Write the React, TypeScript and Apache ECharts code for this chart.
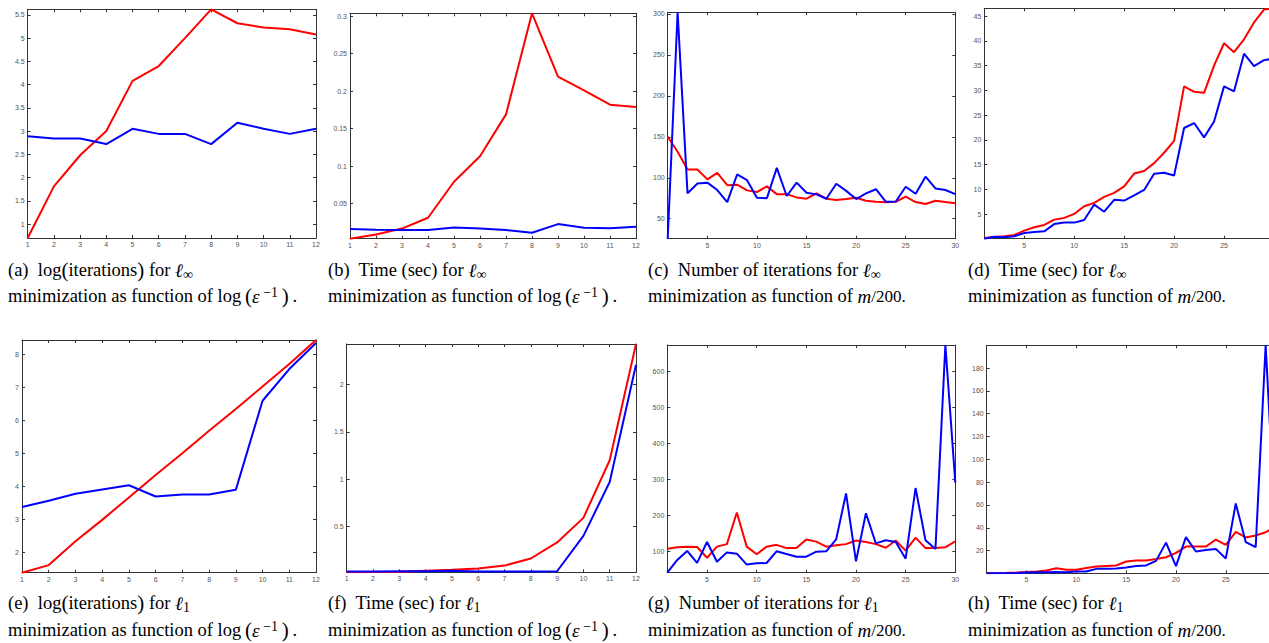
import React, { useEffect, useRef } from 'react';
import * as echarts from 'echarts';

// ---------- data ----------
const xEps = [1, 2, 3, 4, 5, 6, 7, 8, 9, 10, 11, 12];
const xM = [1, 2, 3, 4, 5, 6, 7, 8, 9, 10, 11, 12, 13, 14, 15, 16, 17, 18, 19, 20, 21, 22, 23, 24, 25, 26, 27, 28, 29, 30];

const xEpsTicks = [1, 2, 3, 4, 5, 6, 7, 8, 9, 10, 11, 12];
const xMTicks = [5, 10, 15, 20, 25, 30];
const xMTicksClipped = [5, 10, 15, 20, 25];

const aYTicks = [1, 1.5, 2, 2.5, 3, 3.5, 4, 4.5, 5, 5.5];
const bYTicks = [0.05, 0.1, 0.15, 0.2, 0.25, 0.3];
const cYTicks = [50, 100, 150, 200, 250, 300];
const dYTicks = [5, 10, 15, 20, 25, 30, 35, 40, 45];
const eYTicks = [2, 3, 4, 5, 6, 7, 8];
const fYTicks = [0.5, 1, 1.5, 2];
const gYTicks = [100, 200, 300, 400, 500, 600];
const hYTicks = [20, 40, 60, 80, 100, 120, 140, 160, 180];

const aRed = [0.7, 1.81, 2.48, 3.0, 4.08, 4.4, 5.0, 5.62, 5.32, 5.23, 5.19, 5.08];
const aBlue = [2.89, 2.84, 2.84, 2.72, 3.05, 2.94, 2.94, 2.72, 3.18, 3.05, 2.94, 3.05];

const bRed = [0.003, 0.0085, 0.0165, 0.031, 0.079, 0.113, 0.169, 0.304, 0.2195, 0.201, 0.182, 0.179];
const bBlue = [0.0158, 0.015, 0.0145, 0.0145, 0.018, 0.0165, 0.0145, 0.011, 0.0225, 0.0175, 0.017, 0.019];

const cRed = [150, 131.8, 110, 110, 98, 106, 91, 91.5, 84.6, 82.6, 89.5, 80, 80, 76, 74.4, 81, 74.4, 72.8, 74, 75.6, 72, 70.7, 70, 70.7, 76.9, 70.3, 68, 72, 70.3, 69];
const cBlue = [25.6, 302, 81, 93, 94, 85, 70.3, 104, 97, 75.6, 75, 112, 77.7, 94, 81.7, 79.7, 74.4, 92.7, 84, 74, 81, 86, 70.7, 71, 89, 80.5, 101.3, 87, 85, 80];

const dRed = [0.2, 0.4, 0.53, 0.8, 1.68, 2.35, 2.83, 3.9, 4.24, 5.05, 6.6, 7.28, 8.5, 9.3, 10.6, 13.2, 13.7, 15.3, 17.4, 19.8, 30.8, 29.7, 29.5, 35.0, 39.5, 37.7, 40.3, 43.7, 46.3, 46.56];
const dBlue = [0.05, 0.46, 0.33, 0.53, 1.2, 1.4, 1.54, 3.0, 3.3, 3.3, 3.84, 6.94, 5.5, 7.9, 7.75, 8.8, 9.9, 13.15, 13.35, 12.8, 22.4, 23.4, 20.5, 23.7, 30.8, 29.8, 37.4, 34.9, 36.1, 36.4];

const eRed = [1.38, 1.61, 2.33, 2.98, 3.66, 4.34, 5.0, 5.68, 6.34, 7.02, 7.7, 8.43];
const eBlue = [3.37, 3.56, 3.77, 3.9, 4.03, 3.69, 3.75, 3.75, 3.89, 6.59, 7.55, 8.34];

const fRed = [0.014, 0.016, 0.02, 0.03, 0.04, 0.053, 0.085, 0.16, 0.33, 0.59, 1.2, 2.43];
const fBlue = [0.022, 0.022, 0.024, 0.025, 0.03, 0.022, 0.022, 0.022, 0.025, 0.4, 0.97, 2.21];

const gRed = [107, 111, 113, 112, 82, 113, 120, 208, 113, 92, 113, 118, 109, 109, 133, 127, 113, 117, 120, 130, 126, 120, 110, 130, 102, 138, 109, 109, 111, 128];
const gBlue = [40.5, 76, 101, 68, 126, 71, 97, 93.5, 63, 66.6, 67.5, 100, 92.6, 85, 85, 99, 100, 133, 261, 72, 206, 122, 130.6, 126, 79.6, 276, 130.6, 106.5, 674, 291];

const hRed = [0.2, 0.3, 0.5, 0.8, 1.3, 1.6, 2.5, 4.5, 3.3, 3.3, 4.8, 6.0, 6.6, 6.9, 10.4, 11.3, 11.3, 12.7, 14.2, 18, 23.5, 23.5, 23.5, 29.7, 25, 36.4, 31.5, 33.2, 36.1, 41];
const hBlue = [0.1, 0.1, 0.2, 0.4, 0.7, 1.0, 1.0, 1.3, 1.0, 1.6, 1.6, 4.0, 4.0, 4.3, 5.2, 6.4, 7.0, 11, 27, 6.4, 31.8, 19.2, 20.6, 21.5, 13, 61.3, 27.5, 23, 200, 37];

const captionLine1 = [
  '(a)  log{pr|(}iterations{pr|)} for {ell|ℓ}{sub|∞}',
  '(b)  Time (sec) for {ell|ℓ}{sub|∞}',
  '(c)  Number of iterations for {ell|ℓ}{sub|∞}',
  '(d)  Time (sec) for {ell|ℓ}{sub|∞}',
  '(e)  log{pr|(}iterations{pr|)} for {ell|ℓ}{sub|1}',
  '(f)  Time (sec) for {ell|ℓ}{sub|1}',
  '(g)  Number of iterations for {ell|ℓ}{sub|1}',
  '(h)  Time (sec) for {ell|ℓ}{sub|1}',
];
const lineEps = 'minimization as function of log\u2009{pr|(}{it|ε}\u2009{sup|−1}\u2009{pr|)}\u2009.';
const lineM = 'minimization as function of {it|m}{ms|/200.}';
const captionLine2 = [lineEps, lineEps, lineM, lineM, lineEps, lineEps, lineM, lineM];

// ---------- layout ----------
const plots = [
  { grid: { left: 27.7, top: 9.3, width: 288.3, height: 228.7 }, x: xEps, red: aRed, blue: aBlue, xt: xEpsTicks, xl: xEpsTicks, yt: aYTicks },
  { grid: { left: 350, top: 13.3, width: 286, height: 225.4 }, x: xEps, red: bRed, blue: bBlue, xt: xEpsTicks, xl: xEpsTicks, yt: bYTicks },
  { grid: { left: 667.7, top: 12.3, width: 287.6, height: 226.4 }, x: xM, red: cRed, blue: cBlue, xt: xMTicks, xl: xMTicks, yt: cYTicks },
  { grid: { left: 984.3, top: 8.3, width: 289.7, height: 230.4 }, x: xM, red: dRed, blue: dBlue, xt: xMTicks, xl: xMTicksClipped, yt: dYTicks },
  { grid: { left: 22, top: 340, width: 294, height: 232.7 }, x: xEps, red: eRed, blue: eBlue, xt: xEpsTicks, xl: xEpsTicks, yt: eYTicks },
  { grid: { left: 346.7, top: 344, width: 289.3, height: 228.3 }, x: xEps, red: fRed, blue: fBlue, xt: xEpsTicks, xl: xEpsTicks, yt: fYTicks },
  { grid: { left: 667.3, top: 345, width: 288, height: 227.7 }, x: xM, red: gRed, blue: gBlue, xt: xMTicks, xl: xMTicks, yt: gYTicks },
  { grid: { left: 986.7, top: 345.3, width: 288.9, height: 228 }, x: xM, red: hRed, blue: hBlue, xt: xMTicks, xl: xMTicksClipped, yt: hYTicks },
];

const capX = [8, 328, 648, 968, 8, 328, 648, 968];
const capY1 = [270, 270, 270, 270, 603, 603, 603, 603];
const capY2 = [296, 296, 296, 296, 630, 630, 630, 630];

const AXIS = '#333333';
const LABEL = '#555555';
const SERIF = 'Liberation Serif';
const SANS = 'Liberation Sans';
const CAP_SIZE = 18.5;

export default function App() {
  const ref = useRef<HTMLDivElement>(null);
  useEffect(() => {
    if (!ref.current) return;
    const chart = echarts.init(ref.current, null, { renderer: 'svg' });
    const grids: any[] = [];
    const xAxes: any[] = [];
    const yAxes: any[] = [];
    const series: any[] = [];
    const graphics: any[] = [];

    plots.forEach((p, i) => {
      grids.push({ ...p.grid, containLabel: false });
      const yMin = Math.min(...p.red, ...p.blue);
      const yMax = Math.max(...p.red, ...p.blue);
      const xMin = p.x[0];
      const xMax = p.x[p.x.length - 1];
      const axisLine = { show: true, onZero: false, lineStyle: { color: AXIS, width: 1 } };
      const tick = (vals: number[]) => ({ show: true, inside: true, length: 3, customValues: vals, lineStyle: { color: AXIS, width: 1 } });
      const label = (vals: number[]) => ({
        show: true, customValues: vals, fontSize: 7, color: LABEL, fontFamily: SANS, margin: 3,
      });
      xAxes.push({ type: 'value', gridIndex: i, position: 'bottom', min: xMin, max: xMax, axisLine, axisTick: tick(p.xt), axisLabel: label(p.xl), splitLine: { show: false } });
      xAxes.push({ type: 'value', gridIndex: i, position: 'top', min: xMin, max: xMax, axisLine, axisTick: tick(p.xt), axisLabel: { show: false }, splitLine: { show: false } });
      yAxes.push({ type: 'value', gridIndex: i, position: 'left', min: yMin, max: yMax, axisLine, axisTick: tick(p.yt), axisLabel: label(p.yt), splitLine: { show: false } });
      yAxes.push({ type: 'value', gridIndex: i, position: 'right', min: yMin, max: yMax, axisLine, axisTick: tick(p.yt), axisLabel: { show: false }, splitLine: { show: false } });
      series.push({
        type: 'line', xAxisIndex: 2 * i, yAxisIndex: 2 * i, data: p.x.map((x, k) => [x, p.red[k]]),
        symbol: 'none', showSymbol: false, silent: true, clip: true, z: 2,
        lineStyle: { color: '#ff0000', width: 2 },
      });
      series.push({
        type: 'line', xAxisIndex: 2 * i, yAxisIndex: 2 * i, data: p.x.map((x, k) => [x, p.blue[k]]),
        symbol: 'none', showSymbol: false, silent: true, clip: true, z: 3,
        lineStyle: { color: '#0000ff', width: 2 },
      });
    });

    const rich = {
      pr: { fontFamily: SERIF, fontSize: 21, lineHeight: 22, fill: '#000' },
      it: { fontFamily: SERIF, fontStyle: 'italic', fontSize: 19, lineHeight: 22, fill: '#000' },
      ms: { fontFamily: SERIF, fontSize: 17, lineHeight: 22, fill: '#000' },
      ell: { fontFamily: SERIF, fontStyle: 'italic', fontSize: 19, lineHeight: 22, fill: '#000' },
      sub: { fontFamily: SERIF, fontSize: 14, lineHeight: 14, verticalAlign: 'bottom', fill: '#000' },
      sup: { fontFamily: SERIF, fontSize: 14, lineHeight: 13, verticalAlign: 'top', fill: '#000' },
    };
    for (let i = 0; i < 8; i++) {
      graphics.push({
        type: 'text', x: capX[i], y: capY1[i], silent: true,
        style: { text: captionLine1[i], rich, fontFamily: SERIF, fontSize: CAP_SIZE, lineHeight: 22, fill: '#000', verticalAlign: 'middle', align: 'left' },
      });
      graphics.push({
        type: 'text', x: capX[i], y: capY2[i], silent: true,
        style: { text: captionLine2[i], rich, fontFamily: SERIF, fontSize: CAP_SIZE, lineHeight: 22, fill: '#000', verticalAlign: 'middle', align: 'left' },
      });
    }

    chart.setOption({
      animation: false,
      backgroundColor: '#ffffff',
      grid: grids,
      xAxis: xAxes,
      yAxis: yAxes,
      series,
      graphic: graphics,
    });
    return () => chart.dispose();
  }, []);
  return (
    <div style={{ position: 'absolute', left: 0, top: 0, width: 1269, height: 643, overflow: 'hidden', background: '#fff' }}>
      <div ref={ref} style={{ width: 1300, height: 643 }} />
    </div>
  );
}
